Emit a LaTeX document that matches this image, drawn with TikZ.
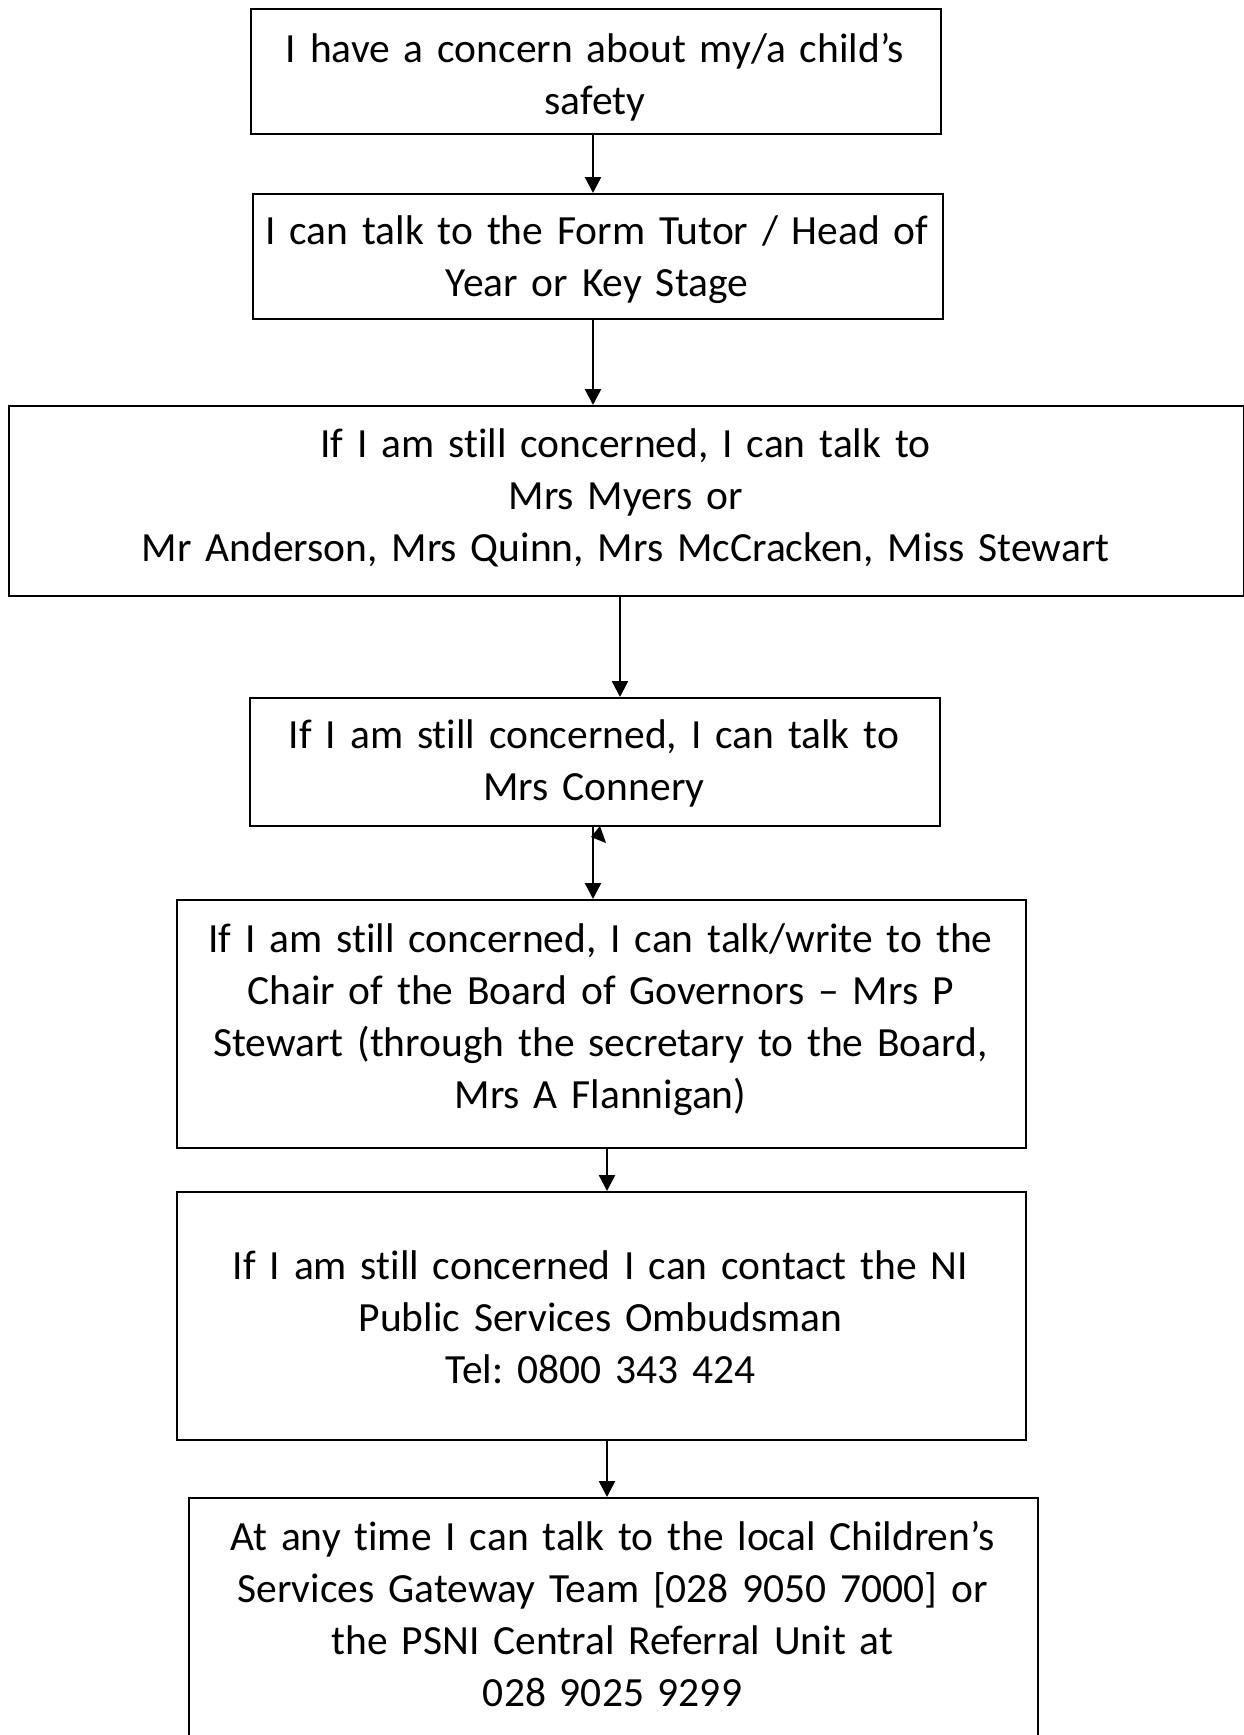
\documentclass[tikz,border=0pt]{standalone}
\usepackage{fontspec}
\setmainfont[Ligatures=CommonOff]{Carlito}
\usetikzlibrary{arrows.meta,calc}
\begin{document}
\frenchspacing
\begin{tikzpicture}[x=1pt,y=-1pt,
  box/.style={draw, line width=2.2pt, anchor=north west, inner sep=0pt},
  txt/.style={anchor=base, align=center, inner sep=0pt, text width=1200pt,
    font=\fontsize{41.5}{52}\selectfont},
  conn/.style={line width=2.4pt, -{Triangle[length=16pt,width=16pt]}}]
\useasboundingbox (0,0) rectangle (1244,1735);
% boxes
\node[box, minimum width=690pt, minimum height=125pt] (b1) at (250,8) {};
\node[box, minimum width=690pt, minimum height=125pt] (b2) at (252,193) {};
\node[box, minimum width=1235pt, minimum height=190pt] (b3) at (8,405) {};
\node[box, minimum width=690pt, minimum height=128pt] (b4) at (249,697) {};
\node[box, minimum width=849pt, minimum height=248pt] (b5) at (176,899) {};
\node[box, minimum width=849pt, minimum height=248pt] (b6) at (176,1191) {};
\node[box, minimum width=849pt, minimum height=260pt] (b7) at (188,1497) {};
% texts
\node[txt] (t1) at (595,62) {I have a concern about my/a child’s\\safety};
\node[txt] (t2) at (597,244) {I can talk to the Form Tutor / Head of\\Year or Key Stage};
\node[txt] (t3) at (625.5,457) {If I am still concerned, I can talk to\\Mrs Myers or\\Mr Anderson, Mrs Quinn, Mrs McCracken, Miss Stewart};
\node[txt] (t4) at (594,748) {If I am still concerned, I can talk to\\Mrs Connery};
\node[txt] (t5) at (600.5,952) {If I am still concerned, I can talk/write to the\\Chair of the Board of Governors – Mrs P\\Stewart (through the secretary to the Board,\\Mrs A Flannigan)};
\node[txt] (t6) at (600.5,1279) {If I am still concerned I can contact the NI\\Public Services Ombudsman\\Tel: 0800 343 424};
\node[txt] (t7) at (612.5,1550) {At any time I can talk to the local Children’s\\Services Gateway Team [028 9050 7000] or\\the PSNI Central Referral Unit at\\028 9025 9299};
% connectors
\coordinate (xa) at (593,0);
\coordinate (xb) at (620,0);
\coordinate (xc) at (607,0);
\draw[conn] (xa |- b1.south) -- (xa |- b2.north);
\draw[conn] (xa |- b2.south) -- (xa |- b3.north);
\draw[conn] (xb |- b3.south) -- (xb |- b4.north);
\draw[conn] (xa |- b4.south) -- (xa |- b5.north);
\fill (600,826) -- (591,837) -- (606,843) -- cycle;
\draw[conn] (xc |- b5.south) -- (xc |- b6.north);
\draw[conn] (xc |- b6.south) -- (xc |- b7.north);
\end{tikzpicture}
\end{document}
